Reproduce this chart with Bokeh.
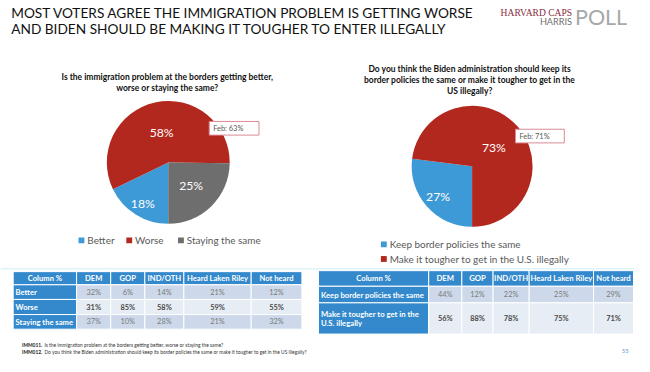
import math
from bokeh.plotting import figure
from bokeh.core.properties import value
from bokeh.embed import file_html
from bokeh.resources import INLINE

# ---------------- data ----------------
title_lines = ["MOST VOTERS AGREE THE IMMIGRATION PROBLEM IS GETTING WORSE",
               "AND BIDEN SHOULD BE MAKING IT TOUGHER TO ENTER ILLEGALLY"]
q1_lines = ["Is the immigration problem at the borders getting better,",
            "worse or staying the same?"]
q2_lines = ["Do you think the Biden administration should keep its",
            "border policies the same or make it tougher to get in the",
            "US illegally?"]
pie1_labels = ["Better", "Worse", "Staying the same"]
pie1_values = [18, 58, 25]
pie1_feb = 63
pie2_labels = ["Keep border policies the same", "Make it tougher to get in the U.S. illegally"]
pie2_values = [27, 73]
pie2_feb = 71
table_cols = ["Column %", "DEM", "GOP", "IND/OTH", "Heard Laken Riley", "Not heard"]
t1_rows = ["Better", "Worse", "Staying the same"]
t1_better = [32, 6, 14, 21, 12]
t1_worse = [31, 85, 58, 59, 55]
t1_same = [37, 10, 28, 21, 32]
t2_rows = [["Keep border policies the same"], ["Make it tougher to get in the", "U.S. illegally"]]
t2_keep = [44, 12, 22, 25, 29]
t2_tougher = [56, 88, 78, 75, 71]
foot_codes = ["IMM011.", "IMM012."]
foot_texts = ["Is the immigration problem at the borders getting better, worse or staying the same?",
              "Do you think the Biden administration should keep its border policies the same or make it tougher to get in the US illegally?"]
page_no = "55"

# ---------------- styling ----------------
W, H = 634, 356
S = W / 650.0
RED, BLUE, GRAY = "#b3281e", "#3d9ad6", "#6e6e6e"
HDR = "#3389cc"
CELL_A, CELL_B = "#cdd9ea", "#e7edf5"
FONT = "Lato"

p = figure(width=W, height=H, x_range=(0, 650), y_range=(3, 368),
           output_backend="svg", toolbar_location=None, min_border=0)
p.axis.visible = False
p.grid.visible = False
p.outline_line_color = None
p.background_fill_color = "white"


def Y(py):
    return 372 - py


def T(x, py, s, size, color="#404040", bold=False, align="left", font=FONT, baseline="middle"):
    p.text(x=[x], y=[Y(py)], text=[s], text_font=value(font),
           text_font_size=value(f"{size * S:.2f}px"),
           text_font_style="bold" if bold else "normal",
           text_color=color, text_align=align, text_baseline=baseline)


# title
for i, line in enumerate(title_lines):
    T(11, 17 + i * 16, line, 14.0, "#111111")

# logo
T(586, 16, "HARVARD CAPS", 9.8, "#8a2b3e", font="Liberation Serif", align="right")
T(586, 26, "HARRIS", 9.4, "#6f6f6f", align="right")
T(589, 21, "POLL", 22, "#a8a8a8")

# faint separator
p.line(x=[0, 650], y=[Y(279), Y(279)], line_color="#dff4f8", line_width=1.5)


def pie(cx, cy, r, values, colors, rfs, label_size):
    total = float(sum(values))
    cum = 0.0
    for v, c, rf in zip(values, colors, rfs):
        a0 = -math.pi / 2 - cum / total * 2 * math.pi
        a1 = -math.pi / 2 - (cum + v) / total * 2 * math.pi
        p.wedge(x=[cx], y=[Y(cy)], radius=r, start_angle=a0, end_angle=a1,
                direction="clock", fill_color=c, line_color=None)
        mid = (a0 + a1) / 2
        lx = cx + rf * r * math.cos(mid)
        ly = Y(cy) + rf * r * math.sin(mid)
        p.text(x=[lx], y=[ly], text=[f"{v}%"], text_font=value(FONT),
               text_font_size=value(f"{label_size * S:.2f}px"), text_color="white",
               text_align="center", text_baseline="middle")
        cum += v


def feb_box(x0, x1, y0, y1, val):
    p.quad(left=[x0], right=[x1], top=[Y(y0)], bottom=[Y(y1)], fill_color="white",
           line_color="#d98a94", line_width=1)
    T(x0 + 4, (y0 + y1) / 2, f"Feb: {val}%", 7.6, "#595959")


# ---- left chart ----
for i, line in enumerate(q1_lines):
    T(171, 82 + i * 11.5, line, 8.7, "#111111", bold=True, align="center")
pie(172, 170, 63, pie1_values, [BLUE, RED, GRAY], [0.78, 0.5, 0.53], 12.5)
feb_box(214, 265, 128, 142, pie1_feb)
leg1_x = [80, 129, 182]
for lx, lab, c in zip(leg1_x, pie1_labels, [BLUE, RED, GRAY]):
    p.quad(left=[lx], right=[lx + 6], top=[Y(247)], bottom=[Y(253)], fill_color=c, line_color=None)
    T(lx + 9, 250, lab, 10.2, "#595959")

# ---- right chart ----
for i, line in enumerate(q2_lines):
    T(481, 74 + i * 11.5, line, 8.7, "#111111", bold=True, align="center")
pie(483.5, 174, 62, pie2_values, [BLUE, RED], [0.75, 0.48], 12.5)
feb_box(528, 578, 136, 150, pie2_feb)
for i, (lab, c) in enumerate(zip(pie2_labels, [BLUE, RED])):
    yy = 254 + i * 15
    p.quad(left=[390], right=[396], top=[Y(yy - 3)], bottom=[Y(yy + 3)], fill_color=c, line_color=None)
    T(399, yy, lab, 10.2, "#595959")


# ---- tables ----
def table(cols_x, rows_y, row_labels, row_values, bold_rows, hdr_size, cell_size):
    for j, name in enumerate(table_cols):
        p.quad(left=[cols_x[j]], right=[cols_x[j + 1]], top=[Y(rows_y[0])], bottom=[Y(rows_y[1])],
               fill_color=HDR, line_color="white", line_width=1)
        T((cols_x[j] + cols_x[j + 1]) / 2, (rows_y[0] + rows_y[1]) / 2, name, hdr_size,
          "white", bold=True, align="center")
    for i, (lab, vals) in enumerate(zip(row_labels, row_values)):
        top, bot = rows_y[i + 1], rows_y[i + 2]
        p.quad(left=[cols_x[0]], right=[cols_x[1]], top=[Y(top)], bottom=[Y(bot)],
               fill_color=HDR, line_color="white", line_width=1)
        lines = lab if isinstance(lab, list) else [lab]
        mid = (top + bot) / 2
        for k, ln in enumerate(lines):
            T(cols_x[0] + 2.5, mid + (k - (len(lines) - 1) / 2) * 10, ln, hdr_size, "white", bold=True)
        fill = CELL_A if i % 2 == 0 else CELL_B
        for j, v in enumerate(vals):
            p.quad(left=[cols_x[j + 1]], right=[cols_x[j + 2]], top=[Y(top)], bottom=[Y(bot)],
                   fill_color=fill, line_color="white", line_width=1)
            b = i in bold_rows
            T((cols_x[j + 1] + cols_x[j + 2]) / 2, mid, f"{v}%", cell_size,
              "#4a4a4a" if b else "#7a7a7a", bold=b, align="center")


table([13, 78, 113, 148, 188, 257, 309], [282, 295.5, 310.5, 326, 341],
      t1_rows, [t1_better, t1_worse, t1_same], {1}, 7.8, 7.6)
table([326, 439, 473, 505, 542, 608, 649], [281, 297, 314, 346],
      t2_rows, [t2_keep, t2_tougher], {1}, 7.9, 7.6)

# ---- footnotes ----
for i, (code, txt) in enumerate(zip(foot_codes, foot_texts)):
    yy = 357 + i * 7
    T(22, yy, code, 5.0, "#222222", bold=True)
    T(45, yy, txt, 5.0, "#333333")
T(644, 363, page_no, 6.0, "#5b9bd5", align="right")

open("out.html", "w").write(file_html(p, INLINE))
